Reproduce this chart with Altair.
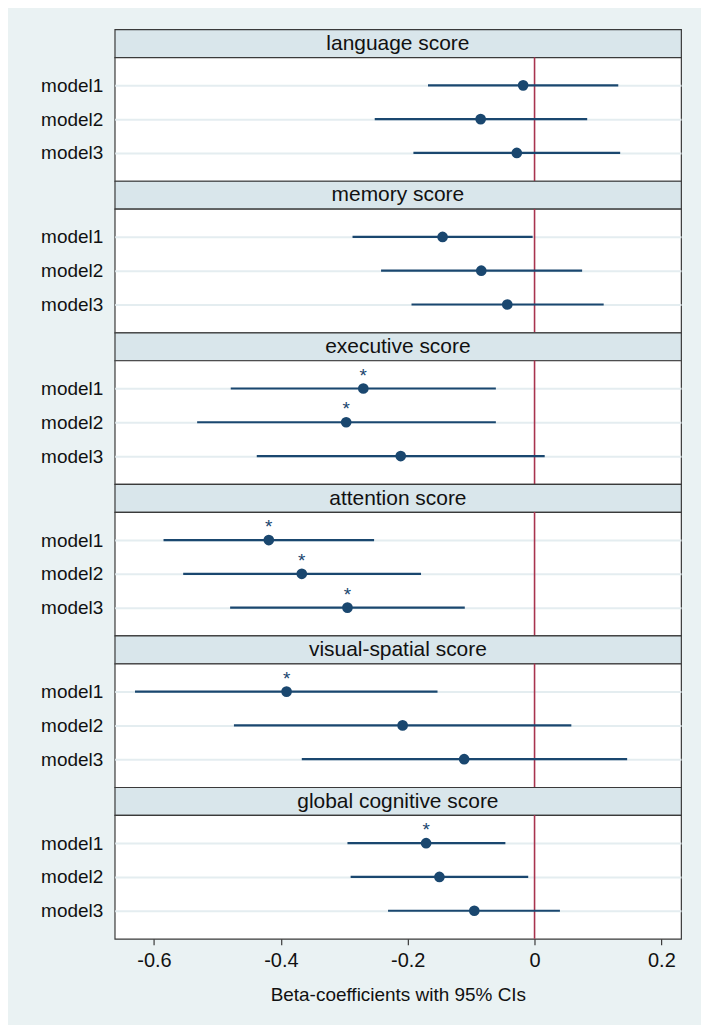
import altair as alt
import pandas as pd

# ---- data ----
outcomes = ["language score", "memory score", "executive score",
            "attention score", "visual-spatial score", "global cognitive score"]
models = ["model1", "model2", "model3"]
coef = [[-0.018, -0.085, -0.028],
        [-0.145, -0.084, -0.043],
        [-0.270, -0.297, -0.211],
        [-0.419, -0.367, -0.295],
        [-0.391, -0.208, -0.111],
        [-0.171, -0.150, -0.095]]
lo = [[-0.168, -0.252, -0.191],
      [-0.287, -0.242, -0.194],
      [-0.479, -0.532, -0.438],
      [-0.585, -0.554, -0.480],
      [-0.630, -0.474, -0.367],
      [-0.295, -0.290, -0.231]]
hi = [[0.132, 0.083, 0.135],
      [-0.003, 0.075, 0.109],
      [-0.061, -0.061, 0.016],
      [-0.253, -0.179, -0.110],
      [-0.153, 0.058, 0.146],
      [-0.046, -0.010, 0.040]]
sig = [[0, 0, 0],
       [0, 0, 0],
       [1, 1, 0],
       [1, 1, 1],
       [1, 0, 0],
       [1, 0, 0]]
x_ticks = [-0.6, -0.4, -0.2, 0, 0.2]
x_title = "Beta-coefficients with 95% CIs"
ref_line = [0.0]

# ---- styling ----
FONT = "Liberation Sans"
NAVY = "#1A476F"
RED = "#A8344E"
FRAME = "#3a3a3a"
BG = "#EAF2F3"
HDR = "#D9E6EB"
GRID = "#E4EDF0"
W = 568
HH = 28
PH = 124

xscale = alt.Scale(domain=[-0.662, 0.231], nice=False, zero=False)
yscale = alt.Scale(type="point", padding=0.83, domain=models)

yaxis = alt.Axis(title=None, ticks=False, domain=False, labelFontSize=19,
                 labelPadding=12, labelColor="#111", labelFont=FONT,
                 grid=True, gridColor=GRID, gridWidth=2,
                 minExtent=106, maxExtent=106)

last_xaxis = alt.Axis(values=x_ticks,
                      labelExpr="datum.value == 0 ? '0' : (datum.value < 0 ? '-' + format(-datum.value, '.1f') : format(datum.value, '.1f'))",
                      tickSize=6, tickColor=FRAME, tickWidth=1.2, domain=False, grid=False,
                      labelFontSize=20, labelFont=FONT, labelColor="#111", labelPadding=6,
                      title=x_title, titleFontSize=19, titleFont=FONT,
                      titleFontWeight="normal", titleColor="#111", titlePadding=15)

charts = []
for i, name in enumerate(outcomes):
    last = i == len(outcomes) - 1
    df = pd.DataFrame({
        "model": models,
        "coef": coef[i],
        "lo": lo[i],
        "hi": hi[i],
        "star": ["*" if s else "" for s in sig[i]],
    })

    def X(field):
        return alt.X(field, type="quantitative", scale=xscale,
                     axis=last_xaxis if last else None)

    header = alt.Chart(pd.DataFrame({"t": [name]})).mark_text(
        fontSize=21, font=FONT, color="#111", baseline="middle", align="center"
    ).encode(
        text="t:N", x=alt.value(W / 2), y=alt.value(HH / 2 + 0.5)
    ).properties(width=W, height=HH,
                 view=alt.ViewBackground(fill=HDR, stroke=FRAME, strokeWidth=1.2))

    zero = alt.Chart(pd.DataFrame({"z": ref_line})).mark_rule(
        color=RED, strokeWidth=1.6
    ).encode(x=X("z"))

    base = alt.Chart(df)
    ci = base.mark_rule(color=NAVY, strokeWidth=2.2).encode(
        x=X("lo"), x2="hi:Q",
        y=alt.Y("model:N", scale=yscale, axis=yaxis, sort=models))
    pt = base.mark_circle(size=115, opacity=1, color=NAVY).encode(
        x=X("coef"), y=alt.Y("model:N", scale=yscale, axis=yaxis, sort=models))
    st = base.mark_text(fontSize=19, font=FONT, color=NAVY, dy=-13,
                        baseline="middle").encode(
        x=X("coef"), y=alt.Y("model:N", scale=yscale, axis=yaxis, sort=models),
        text="star:N")

    panel = alt.layer(zero, ci, pt, st).properties(
        width=W, height=PH,
        view=alt.ViewBackground(fill="white", stroke=FRAME, strokeWidth=1.2))
    charts.append(header)
    charts.append(panel)

chart = alt.vconcat(*charts, spacing=0, bounds="flush").configure(
    background=BG, padding={"left": 0, "top": 19, "right": 19, "bottom": 18},
    font=FONT
)

chart.save("out.html", embed_options={"renderer": "svg", "actions": False})
